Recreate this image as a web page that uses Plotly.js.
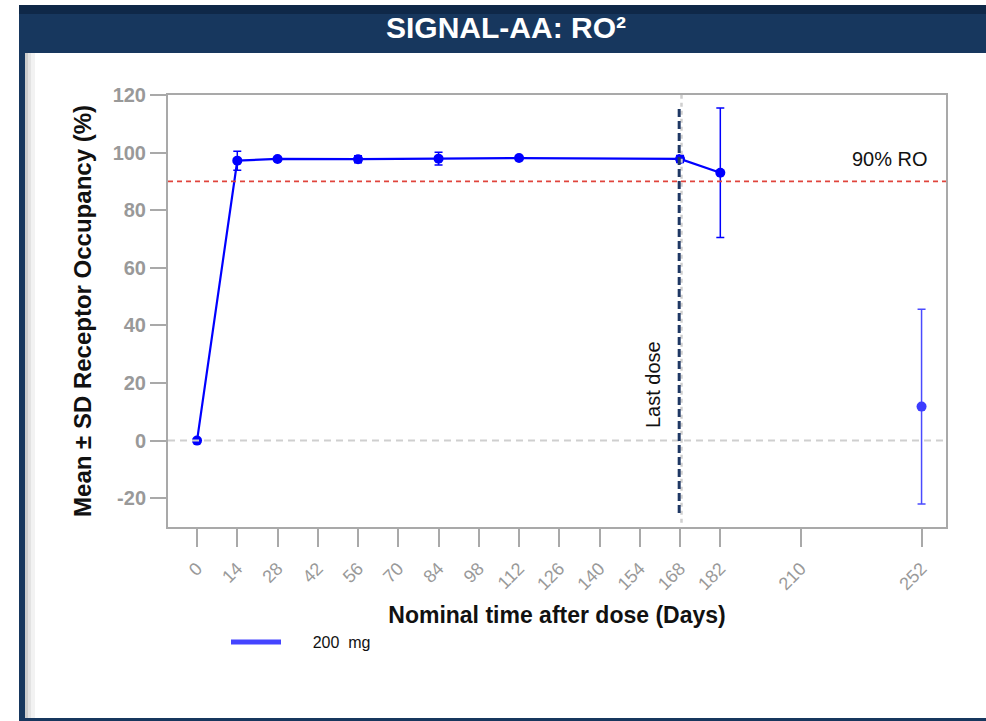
<!DOCTYPE html>
<html>
<head>
<meta charset="utf-8">
<script src="https://cdn.plot.ly/plotly-3.0.1.min.js"></script>
<style>
  html, body { margin: 0; padding: 0; background: #ffffff; }
  #chart { width: 986px; height: 721px; }
</style>
</head>
<body>
<div id="chart"></div>
<script>
// Receptor occupancy, 200 mg cohort: mean ± SD by nominal day
const days = [0, 14, 28, 56, 84, 112, 168, 182];
const meanRO = [0, 97.2, 97.8, 97.7, 97.9, 98.1, 97.8, 93.0];
const sdRO = [0, 3.3, 0.6, 1.2, 2.2, 0.5, 1.2, 22.5];

// Follow-up visit, plotted on its own (not joined to the line)
const followDays = [252];
const followMean = [11.8];
const followSD = [33.8];

const xTickVals = [0, 14, 28, 42, 56, 70, 84, 98, 112, 126, 140, 154, 168, 182, 210, 252];
const yTickVals = [-20, 0, 20, 40, 60, 80, 100, 120];

const lastDoseDay = 168;
const roThreshold = 90;
const legendLabel = "\u00a0\u00a0\u00a0\u00a0\u00a0\u00a0200\u00a0 mg";

// page geometry helpers (pixel -> paper)
const W = 986, H = 721;
const M = { l: 168, r: 40, t: 95, b: 194 };
const PW = W - M.l - M.r, PH = H - M.t - M.b;
const px = v => (v - M.l) / PW;
const py = v => 1 - (v - M.t) / PH;

const navy = '#17375e';
const frame = '#a9a9a9';
const tickGray = '#999999';
const font = 'Liberation Sans, Arial, sans-serif';

const traces = [
  {
    x: days, y: meanRO,
    type: 'scatter', mode: 'lines+markers',
    line: { color: '#0000ff', width: 2.2 },
    marker: { color: '#0000ff', size: 10 },
    error_y: { type: 'data', array: sdRO, visible: true, color: '#0000ff', thickness: 1.5, width: 4 },
    showlegend: false, hoverinfo: 'x+y'
  },
  {
    x: followDays, y: followMean,
    type: 'scatter', mode: 'markers',
    marker: { color: '#3c3cff', size: 10 },
    error_y: { type: 'data', array: followSD, visible: true, color: '#4a4aff', thickness: 1.5, width: 4 },
    showlegend: false
  },
  {
    x: [null], y: [null],
    type: 'scatter', mode: 'lines',
    name: legendLabel,
    line: { color: '#4444ff', width: 5 },
    showlegend: true
  }
];

const shapes = [
  // header band
  { type: 'rect', xref: 'paper', yref: 'paper', x0: px(19), x1: px(986), y0: py(53), y1: py(5),
    fillcolor: navy, line: { width: 0 }, layer: 'below' },
  { type: 'rect', xref: 'paper', yref: 'paper', x0: px(19), x1: px(986), y0: py(14), y1: py(5),
    fillcolor: '#0f2848', line: { width: 0 }, layer: 'below' },
  // left edge strip
  { type: 'rect', xref: 'paper', yref: 'paper', x0: px(19), x1: px(25), y0: py(721), y1: py(53),
    fillcolor: navy, line: { width: 0 }, layer: 'below' },
  // bottom edge strip
  { type: 'rect', xref: 'paper', yref: 'paper', x0: px(19), x1: px(986), y0: py(721), y1: py(718),
    fillcolor: navy, line: { width: 0 }, layer: 'below' },
  // soft inner shadow along the left edge
  { type: 'rect', xref: 'paper', yref: 'paper', x0: px(25), x1: px(28), y0: py(718), y1: py(53),
    fillcolor: 'rgba(0,0,0,0.20)', line: { width: 0 }, layer: 'below' },
  { type: 'rect', xref: 'paper', yref: 'paper', x0: px(28), x1: px(31), y0: py(718), y1: py(53),
    fillcolor: 'rgba(0,0,0,0.11)', line: { width: 0 }, layer: 'below' },
  { type: 'rect', xref: 'paper', yref: 'paper', x0: px(31), x1: px(35), y0: py(718), y1: py(53),
    fillcolor: 'rgba(0,0,0,0.05)', line: { width: 0 }, layer: 'below' },
  // zero reference
  { type: 'line', xref: 'paper', yref: 'y', x0: 0, x1: 1, y0: 0, y1: 0,
    line: { color: '#cfcfcf', width: 2, dash: '7px,5px' } },
  // 90% occupancy threshold
  { type: 'line', xref: 'paper', yref: 'y', x0: 0, x1: 1, y0: roThreshold, y1: roThreshold,
    line: { color: '#e0443c', width: 1.6, dash: '5px,4px' } },
  // last dose markers
  { type: 'line', xref: 'x', yref: 'paper', x0: lastDoseDay + 0.5, x1: lastDoseDay + 0.5, y0: 0.01, y1: 1,
    line: { color: '#cfcfcf', width: 2.5, dash: '4px,4px' } },
  { type: 'line', xref: 'x', yref: 'paper', x0: lastDoseDay - 0.3, x1: lastDoseDay - 0.3, y0: py(513), y1: py(106),
    line: { color: '#1f3864', width: 3, dash: '8px,4px' } }
];

const annotations = [
  { x: 241, y: 97.7, xref: 'x', yref: 'y', text: '90% RO', showarrow: false,
    font: { family: font, size: 20, color: '#111111' } },
  { x: 158.8, y: 19.5, xref: 'x', yref: 'y', text: 'Last dose', showarrow: false, textangle: -90,
    font: { family: font, size: 20, color: '#111111' } }
];

const layout = {
  width: W, height: H,
  margin: M,
  paper_bgcolor: '#ffffff',
  plot_bgcolor: '#ffffff',
  showlegend: true,
  title: {
    text: '<b>SIGNAL-AA: RO²</b>',
    xref: 'container', yref: 'container',
    x: 506 / W, y: 1 - 27 / H, xanchor: 'center', yanchor: 'middle',
    font: { family: 'Liberation Sans Narrow, Arial Narrow, Liberation Sans, sans-serif', size: 30, color: '#ffffff' }
  },
  xaxis: {
    range: [-10.1, 260.5],
    tickmode: 'array', tickvals: xTickVals, ticktext: xTickVals.map(String),
    tickangle: -45,
    ticks: 'outside', ticklen: 18, tickwidth: 2, tickcolor: frame,
    ticklabelstandoff: 4,
    tickfont: { family: font, size: 18, color: tickGray },
    showgrid: false, zeroline: false,
    showline: true, mirror: true, linecolor: frame, linewidth: 2,
    title: {
      text: 'Nominal time after dose (Days)', standoff: 14,
      font: { family: font, size: 23, color: '#111111', weight: 700 }
    }
  },
  yaxis: {
    range: [-30, 120],
    tickmode: 'array', tickvals: yTickVals, ticktext: yTickVals.map(String),
    ticks: 'outside', ticklen: 16, tickwidth: 2, tickcolor: frame,
    tickfont: { family: font, size: 20, color: tickGray, weight: 700 },
    showgrid: false, zeroline: false,
    showline: true, mirror: true, linecolor: frame, linewidth: 2,
    title: {
      text: 'Mean ± SD Receptor Occupancy (%)', standoff: 14,
      font: { family: font, size: 24, color: '#111111', weight: 700 }
    }
  },
  legend: {
    x: px(226), y: py(625), xanchor: 'left', yanchor: 'top',
    orientation: 'h', bgcolor: 'rgba(0,0,0,0)',
    font: { family: font, size: 16, color: '#111111' },
    itemwidth: 50
  },
  shapes: shapes,
  annotations: annotations
};

Plotly.newPlot('chart', traces, layout, { displayModeBar: false, staticPlot: true });
</script>
</body>
</html>
